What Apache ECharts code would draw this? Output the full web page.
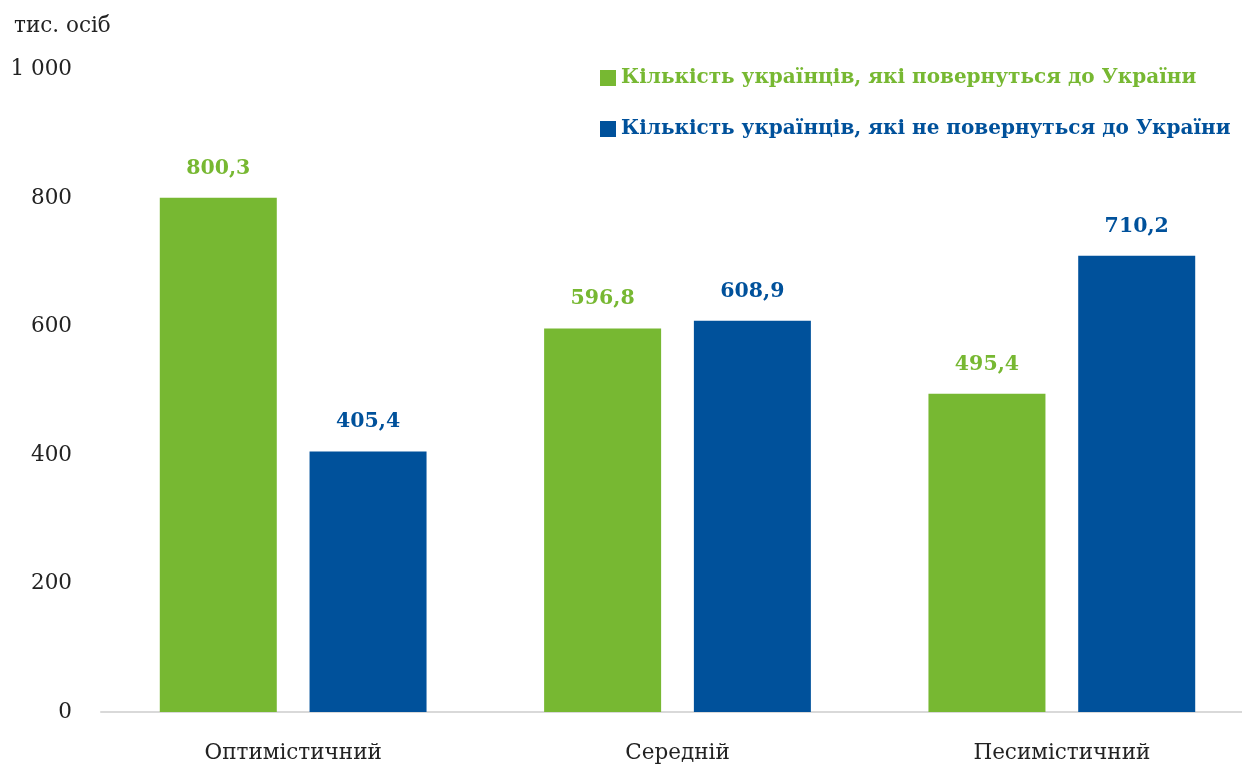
<!DOCTYPE html>
<html>
<head>
<meta charset="utf-8">
<script src="https://cdn.jsdelivr.net/npm/echarts@6/dist/echarts.min.js"></script>
<style>
html,body{margin:0;padding:0;background:#fff;}
#chart{width:1242px;height:767px;}
</style>
</head>
<body>
<div id="chart"></div>
<script>
const categories = ['Оптимістичний', 'Середній', 'Песимістичний'];
const seriesNames = ['Кількість українців, які повернуться до України', 'Кількість українців, які не повернуться до України'];
const returnValues = [800.3, 596.8, 495.4];
const notReturnValues = [405.4, 608.9, 710.2];
const unitLabel = 'тис. осіб';

const GREEN = '#77b832';
const BLUE = '#00519b';
const FONT = '"DejaVu Serif", serif';

const chart = echarts.init(document.getElementById('chart'), null, {renderer: 'canvas'});
const fmt = v => v.toFixed(1).replace('.', ',');

chart.setOption({
  animation: false,
  backgroundColor: '#fff',
  textStyle: {fontFamily: FONT},
  title: {
    text: unitLabel, left: 9, top: 10,
    textStyle: {fontFamily: FONT, fontSize: 21.5, fontWeight: 'normal', color: '#222'}
  },
  legend: {
    orient: 'vertical', left: 600, top: 68, itemGap: 31, padding: 0,
    itemWidth: 16, itemHeight: 16, icon: 'rect',
    textStyle: {fontFamily: FONT, fontSize: 20, fontWeight: 'bold'},
    data: [
      {name: seriesNames[0], textStyle: {color: GREEN}},
      {name: seriesNames[1], textStyle: {color: BLUE}}
    ]
  },
  grid: {left: 101, width: 1153, top: 69.5, bottom: 55, containLabel: false, outerBoundsMode: 'none'},
  xAxis: {
    type: 'category', data: categories,
    axisLine: {lineStyle: {color: '#d9d9d9', width: 2}},
    axisTick: {show: false},
    axisLabel: {fontFamily: FONT, fontSize: 21.5, color: '#222', margin: 30}
  },
  yAxis: {
    type: 'value', min: 0, max: 1000, interval: 200,
    splitLine: {show: false},
    axisLine: {show: false}, axisTick: {show: false},
    axisLabel: {
      fontFamily: FONT, fontSize: 21.5, color: '#222', margin: 29,
      formatter: v => v >= 1000 ? String(v).replace(/\B(?=(\d{3})+(?!\d))/g, ' ') : String(v)
    }
  },
  series: [
    {
      name: seriesNames[0], type: 'bar', data: returnValues,
      barWidth: 117, barGap: '28%',
      itemStyle: {color: GREEN},
      label: {show: true, position: 'top', distance: 19, formatter: p => fmt(p.value),
        fontFamily: FONT, fontSize: 20.5, fontWeight: 'bold', color: GREEN}
    },
    {
      name: seriesNames[1], type: 'bar', data: notReturnValues,
      barWidth: 117,
      itemStyle: {color: BLUE},
      label: {show: true, position: 'top', distance: 19, formatter: p => fmt(p.value),
        fontFamily: FONT, fontSize: 20.5, fontWeight: 'bold', color: BLUE}
    }
  ]
});
</script>
</body>
</html>
